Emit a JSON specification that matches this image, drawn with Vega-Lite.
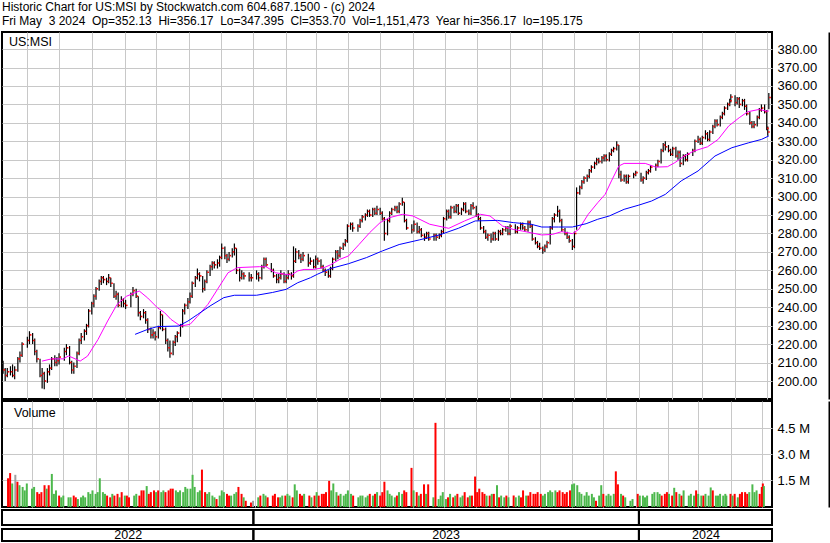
{
"$schema": "https://vega.github.io/schema/vega-lite/v6.json",
"background": "white",
"padding": {"left": 0, "right": 0, "top": 1, "bottom": 0},
"config": {"view": {"stroke": "black", "strokeWidth": 2}, "font": "Liberation Sans", "axis": {"labelFont": "Liberation Sans", "labelColor": "black"}},
"title": {"text": "Historic Chart for US:MSI by Stockwatch.com 604.687.1500 - (c) 2024", "subtitle": "Fri May\u00a0 3 2024\u00a0 Op=352.13\u00a0 Hi=356.17\u00a0 Lo=347.395\u00a0 Cl=353.70\u00a0 Vol=1,151,473\u00a0 Year hi=356.17\u00a0 lo=195.175", "anchor": "start", "fontSize": 12, "fontWeight": "normal", "font": "Liberation Sans", "color": "black", "subtitleFontSize": 12, "subtitleFont": "Liberation Sans", "subtitleColor": "black", "subtitlePadding": 2, "offset": 3, "dx": 2},
"datasets": {
"px": [
{"d":"2022-05-09","o":209,"h":211,"l":204,"c":206,"v":1.6},
{"d":"2022-05-11","o":206,"h":207,"l":200,"c":203,"v":1.9},
{"d":"2022-05-13","o":203,"h":207,"l":202,"c":205,"v":1.3},
{"d":"2022-05-16","o":205,"h":208,"l":203,"c":205,"v":1.8},
{"d":"2022-05-18","o":207,"h":209,"l":202,"c":203,"v":1.4},
{"d":"2022-05-20","o":203,"h":208,"l":201,"c":206,"v":1.2},
{"d":"2022-05-23","o":206,"h":213,"l":205,"c":212,"v":1.1},
{"d":"2022-05-25","o":212,"h":216,"l":210,"c":214,"v":0.9},
{"d":"2022-05-27","o":214,"h":221,"l":213,"c":220,"v":1.3},
{"d":"2022-06-01","o":220,"h":224,"l":218,"c":222,"v":1.0},
{"d":"2022-06-03","o":222,"h":227,"l":220,"c":225,"v":1.1},
{"d":"2022-06-06","o":225,"h":226,"l":220,"c":222,"v":0.8},
{"d":"2022-06-08","o":222,"h":223,"l":214,"c":216,"v":0.7},
{"d":"2022-06-10","o":216,"h":217,"l":210,"c":212,"v":0.8},
{"d":"2022-06-13","o":212,"h":212,"l":202,"c":203,"v":1.2},
{"d":"2022-06-15","o":203,"h":207,"l":196,"c":204,"v":1.0},
{"d":"2022-06-17","o":204,"h":205,"l":195.5,"c":200,"v":1.2},
{"d":"2022-06-20","o":200,"h":207,"l":199,"c":205,"v":1.85},
{"d":"2022-06-22","o":205,"h":209,"l":203,"c":207,"v":0.7},
{"d":"2022-06-24","o":207,"h":213,"l":206,"c":212,"v":0.9},
{"d":"2022-06-27","o":212,"h":214,"l":208,"c":210,"v":0.6},
{"d":"2022-06-29","o":210,"h":213,"l":208,"c":211,"v":0.5},
{"d":"2022-07-01","o":211,"h":215,"l":209,"c":213,"v":0.6},
{"d":"2022-07-06","o":213,"h":218,"l":211,"c":216,"v":0.5},
{"d":"2022-07-08","o":216,"h":220,"l":214,"c":218,"v":0.5},
{"d":"2022-07-11","o":218,"h":219,"l":209,"c":210,"v":0.6},
{"d":"2022-07-13","o":210,"h":211,"l":204,"c":206,"v":0.5},
{"d":"2022-07-15","o":206,"h":210,"l":204,"c":208,"v":0.4},
{"d":"2022-07-18","o":208,"h":216,"l":207,"c":215,"v":0.5},
{"d":"2022-07-20","o":215,"h":223,"l":214,"c":222,"v":0.6},
{"d":"2022-07-22","o":222,"h":226,"l":220,"c":224,"v":0.5},
{"d":"2022-07-25","o":224,"h":228,"l":222,"c":227,"v":0.8},
{"d":"2022-07-27","o":227,"h":231,"l":225,"c":230,"v":0.7},
{"d":"2022-07-29","o":230,"h":239,"l":229,"c":238,"v":0.9},
{"d":"2022-08-01","o":238,"h":243,"l":236,"c":242,"v":0.7},
{"d":"2022-08-03","o":242,"h":247,"l":240,"c":246,"v":0.8},
{"d":"2022-08-05","o":246,"h":251,"l":244,"c":250,"v":1.6},
{"d":"2022-08-08","o":250,"h":255,"l":249,"c":254,"v":0.8},
{"d":"2022-08-10","o":254,"h":257,"l":252,"c":256,"v":0.7},
{"d":"2022-08-12","o":256,"h":257,"l":253,"c":255,"v":0.6},
{"d":"2022-08-15","o":255,"h":256,"l":252,"c":254,"v":0.5},
{"d":"2022-08-17","o":254,"h":258,"l":253,"c":256,"v":0.7},
{"d":"2022-08-19","o":256,"h":256,"l":251,"c":253,"v":0.6},
{"d":"2022-08-22","o":253,"h":253,"l":245,"c":246,"v":0.7},
{"d":"2022-08-24","o":246,"h":249,"l":244,"c":247,"v":0.5},
{"d":"2022-08-26","o":247,"h":248,"l":240,"c":241,"v":0.8},
{"d":"2022-08-29","o":241,"h":246,"l":240,"c":244,"v":0.6},
{"d":"2022-08-31","o":244,"h":245,"l":240,"c":242,"v":0.6},
{"d":"2022-09-02","o":242,"h":244,"l":239,"c":241,"v":0.5},
{"d":"2022-09-07","o":241,"h":248,"l":240,"c":247,"v":0.6},
{"d":"2022-09-09","o":247,"h":251,"l":246,"c":249,"v":0.7},
{"d":"2022-09-12","o":249,"h":250,"l":245,"c":246,"v":0.6},
{"d":"2022-09-14","o":246,"h":246,"l":235,"c":237,"v":0.9},
{"d":"2022-09-16","o":237,"h":238,"l":233,"c":235,"v":0.9},
{"d":"2022-09-19","o":235,"h":239,"l":234,"c":237,"v":1.15},
{"d":"2022-09-21","o":237,"h":238,"l":231,"c":233,"v":0.7},
{"d":"2022-09-23","o":233,"h":234,"l":226,"c":228,"v":0.8},
{"d":"2022-09-26","o":228,"h":229,"l":223,"c":225,"v":0.9},
{"d":"2022-09-28","o":225,"h":228,"l":223,"c":226,"v":0.8},
{"d":"2022-09-30","o":226,"h":227,"l":222,"c":224,"v":0.9},
{"d":"2022-10-03","o":224,"h":230,"l":223,"c":229,"v":0.8},
{"d":"2022-10-05","o":229,"h":238,"l":228,"c":236,"v":0.9},
{"d":"2022-10-07","o":236,"h":236,"l":227,"c":228,"v":0.8},
{"d":"2022-10-10","o":228,"h":229,"l":220,"c":222,"v":0.9},
{"d":"2022-10-12","o":222,"h":223,"l":216,"c":218,"v":1.0},
{"d":"2022-10-14","o":218,"h":222,"l":212.6,"c":215,"v":1.0},
{"d":"2022-10-17","o":215,"h":222,"l":214,"c":221,"v":0.9},
{"d":"2022-10-19","o":221,"h":225,"l":219,"c":224,"v":0.8},
{"d":"2022-10-21","o":224,"h":227,"l":221,"c":226,"v":0.9},
{"d":"2022-10-24","o":226,"h":231,"l":224,"c":230,"v":0.8},
{"d":"2022-10-26","o":230,"h":239,"l":229,"c":238,"v":1.1},
{"d":"2022-10-28","o":238,"h":242,"l":236,"c":241,"v":1.0},
{"d":"2022-10-31","o":241,"h":245,"l":239,"c":243,"v":1.0},
{"d":"2022-11-02","o":243,"h":248,"l":242,"c":246,"v":1.8},
{"d":"2022-11-04","o":246,"h":254,"l":245,"c":253,"v":1.1},
{"d":"2022-11-07","o":253,"h":257,"l":251,"c":256,"v":0.8},
{"d":"2022-11-09","o":256,"h":261,"l":255,"c":258,"v":0.9},
{"d":"2022-11-11","o":258,"h":259,"l":254,"c":257,"v":2.1},
{"d":"2022-11-14","o":257,"h":257,"l":248,"c":250,"v":0.8},
{"d":"2022-11-16","o":250,"h":255,"l":249,"c":254,"v":0.7},
{"d":"2022-11-18","o":254,"h":260,"l":253,"c":259,"v":0.8},
{"d":"2022-11-21","o":259,"h":263,"l":257,"c":262,"v":0.6},
{"d":"2022-11-23","o":262,"h":265,"l":260,"c":264,"v":0.5},
{"d":"2022-11-25","o":264,"h":265,"l":261,"c":263,"v":0.4},
{"d":"2022-11-28","o":263,"h":266,"l":261,"c":264,"v":0.6},
{"d":"2022-11-30","o":264,"h":268,"l":262,"c":267,"v":0.9},
{"d":"2022-12-02","o":267,"h":274.5,"l":266,"c":272,"v":0.8},
{"d":"2022-12-05","o":272,"h":273,"l":266,"c":268,"v":0.7},
{"d":"2022-12-07","o":268,"h":269,"l":264,"c":266,"v":0.6},
{"d":"2022-12-09","o":266,"h":270,"l":265,"c":268,"v":0.6},
{"d":"2022-12-12","o":268,"h":272,"l":267,"c":270,"v":0.7},
{"d":"2022-12-14","o":270,"h":274.5,"l":268,"c":272,"v":0.8},
{"d":"2022-12-16","o":272,"h":272,"l":258,"c":260,"v":1.1},
{"d":"2022-12-19","o":260,"h":261,"l":254,"c":256,"v":0.7},
{"d":"2022-12-21","o":256,"h":260,"l":255,"c":258,"v":0.5},
{"d":"2022-12-23","o":258,"h":259,"l":255,"c":257,"v":0.3},
{"d":"2022-12-28","o":257,"h":259,"l":254,"c":256,"v":0.2},
{"d":"2022-12-30","o":256,"h":258,"l":254,"c":256,"v":0.3},
{"d":"2023-01-04","o":256,"h":260,"l":255,"c":258,"v":0.5},
{"d":"2023-01-06","o":258,"h":259,"l":254,"c":256,"v":0.6},
{"d":"2023-01-09","o":256,"h":263,"l":255,"c":262,"v":0.7},
{"d":"2023-01-11","o":262,"h":267,"l":261,"c":266,"v":0.6},
{"d":"2023-01-13","o":266,"h":267,"l":262,"c":263,"v":0.5},
{"d":"2023-01-18","o":263,"h":264,"l":259,"c":260,"v":0.6},
{"d":"2023-01-20","o":260,"h":261,"l":256,"c":257,"v":0.7},
{"d":"2023-01-23","o":257,"h":258,"l":253,"c":255,"v":0.5},
{"d":"2023-01-25","o":255,"h":258,"l":253,"c":256,"v":0.5},
{"d":"2023-01-27","o":256,"h":260,"l":255,"c":258,"v":0.6},
{"d":"2023-01-30","o":258,"h":259,"l":253,"c":254,"v":0.6},
{"d":"2023-02-01","o":254,"h":258,"l":253,"c":256,"v":0.7},
{"d":"2023-02-03","o":256,"h":260,"l":255,"c":258,"v":0.6},
{"d":"2023-02-06","o":258,"h":259,"l":255,"c":257,"v":0.5},
{"d":"2023-02-08","o":257,"h":273,"l":256,"c":265,"v":1.25},
{"d":"2023-02-10","o":265,"h":272,"l":264,"c":270,"v":0.9},
{"d":"2023-02-13","o":270,"h":271,"l":266,"c":268,"v":0.7},
{"d":"2023-02-15","o":268,"h":269,"l":264,"c":266,"v":0.6},
{"d":"2023-02-17","o":266,"h":270,"l":265,"c":268,"v":0.7},
{"d":"2023-02-22","o":268,"h":269,"l":262,"c":264,"v":0.6},
{"d":"2023-02-24","o":264,"h":267,"l":263,"c":265,"v":0.5},
{"d":"2023-02-27","o":265,"h":266,"l":261,"c":262,"v":0.6},
{"d":"2023-03-01","o":262,"h":268,"l":261,"c":266,"v":0.8},
{"d":"2023-03-03","o":266,"h":267,"l":263,"c":265,"v":0.6},
{"d":"2023-03-06","o":265,"h":266,"l":261,"c":262,"v":0.7},
{"d":"2023-03-08","o":262,"h":263,"l":259,"c":260,"v":0.7},
{"d":"2023-03-10","o":260,"h":261,"l":257,"c":259,"v":0.8},
{"d":"2023-03-13","o":259,"h":260,"l":256,"c":257,"v":1.45},
{"d":"2023-03-15","o":257,"h":262,"l":256,"c":261,"v":0.9},
{"d":"2023-03-17","o":261,"h":267,"l":260,"c":266,"v":1.3},
{"d":"2023-03-20","o":266,"h":271,"l":265,"c":270,"v":0.8},
{"d":"2023-03-22","o":270,"h":271,"l":266,"c":268,"v":0.6},
{"d":"2023-03-24","o":268,"h":273,"l":267,"c":272,"v":0.7},
{"d":"2023-03-27","o":272,"h":275,"l":271,"c":274,"v":0.6},
{"d":"2023-03-29","o":274,"h":277,"l":273,"c":276,"v":0.7},
{"d":"2023-03-31","o":276,"h":285,"l":275,"c":284,"v":0.9},
{"d":"2023-04-03","o":284,"h":286,"l":282,"c":285,"v":0.7},
{"d":"2023-04-05","o":285,"h":286,"l":281,"c":283,"v":0.6},
{"d":"2023-04-10","o":283,"h":285,"l":281,"c":284,"v":0.5},
{"d":"2023-04-12","o":284,"h":288,"l":283,"c":287,"v":0.6},
{"d":"2023-04-14","o":287,"h":290,"l":286,"c":289,"v":0.6},
{"d":"2023-04-17","o":289,"h":291,"l":287,"c":290,"v":0.5},
{"d":"2023-04-19","o":290,"h":293,"l":289,"c":292,"v":0.6},
{"d":"2023-04-21","o":292,"h":293,"l":289,"c":290,"v":0.7},
{"d":"2023-04-24","o":290,"h":294,"l":289,"c":293,"v":0.6},
{"d":"2023-04-26","o":293,"h":294,"l":290,"c":291,"v":0.7},
{"d":"2023-04-28","o":291,"h":295,"l":290,"c":293,"v":0.8},
{"d":"2023-05-01","o":293,"h":294,"l":290,"c":291,"v":0.6},
{"d":"2023-05-03","o":291,"h":292,"l":287,"c":288,"v":0.8},
{"d":"2023-05-05","o":288,"h":289,"l":276,"c":280,"v":1.4},
{"d":"2023-05-08","o":280,"h":288,"l":279,"c":287,"v":0.9},
{"d":"2023-05-10","o":287,"h":292,"l":286,"c":291,"v":0.7},
{"d":"2023-05-12","o":291,"h":294,"l":290,"c":293,"v":0.6},
{"d":"2023-05-15","o":293,"h":295,"l":292,"c":294,"v":0.5},
{"d":"2023-05-17","o":294,"h":295,"l":291,"c":292,"v":0.6},
{"d":"2023-05-19","o":292,"h":297,"l":291,"c":296,"v":0.8},
{"d":"2023-05-22","o":296,"h":299.4,"l":295,"c":297,"v":0.7},
{"d":"2023-05-24","o":297,"h":297,"l":286,"c":287,"v":0.9},
{"d":"2023-05-26","o":287,"h":288,"l":282,"c":283,"v":0.8},
{"d":"2023-05-31","o":283,"h":285,"l":280,"c":282,"v":2.2},
{"d":"2023-06-02","o":282,"h":287,"l":281,"c":285,"v":0.9},
{"d":"2023-06-05","o":285,"h":286,"l":280,"c":281,"v":0.8},
{"d":"2023-06-07","o":281,"h":284,"l":280,"c":282,"v":0.6},
{"d":"2023-06-09","o":282,"h":283,"l":278,"c":279,"v":0.7},
{"d":"2023-06-12","o":279,"h":280,"l":276,"c":278,"v":1.25},
{"d":"2023-06-14","o":278,"h":281,"l":277,"c":280,"v":0.7},
{"d":"2023-06-16","o":280,"h":281,"l":276,"c":277,"v":1.25},
{"d":"2023-06-21","o":277,"h":280,"l":276,"c":279,"v":0.5},
{"d":"2023-06-23","o":279,"h":280,"l":276,"c":278,"v":4.8},
{"d":"2023-06-26","o":278,"h":280,"l":277,"c":279,"v":0.4},
{"d":"2023-06-28","o":279,"h":282,"l":278,"c":281,"v":0.6},
{"d":"2023-06-30","o":281,"h":289,"l":280,"c":288,"v":0.8},
{"d":"2023-07-03","o":288,"h":293,"l":287,"c":292,"v":0.4},
{"d":"2023-07-05","o":292,"h":293,"l":288,"c":289,"v":0.5},
{"d":"2023-07-07","o":289,"h":295,"l":288,"c":294,"v":0.7},
{"d":"2023-07-10","o":294,"h":295,"l":291,"c":292,"v":0.5},
{"d":"2023-07-12","o":292,"h":296,"l":291,"c":295,"v":0.6},
{"d":"2023-07-14","o":295,"h":296,"l":290,"c":291,"v":0.7},
{"d":"2023-07-17","o":291,"h":294,"l":290,"c":293,"v":0.5},
{"d":"2023-07-19","o":293,"h":297,"l":292,"c":296,"v":0.6},
{"d":"2023-07-21","o":296,"h":297,"l":291,"c":292,"v":0.8},
{"d":"2023-07-24","o":292,"h":293,"l":290,"c":291,"v":0.5},
{"d":"2023-07-26","o":291,"h":296,"l":290,"c":295,"v":0.6},
{"d":"2023-07-28","o":295,"h":297,"l":293,"c":294,"v":0.6},
{"d":"2023-07-31","o":294,"h":295,"l":289,"c":290,"v":1.7},
{"d":"2023-08-02","o":290,"h":291,"l":287,"c":288,"v":0.8},
{"d":"2023-08-04","o":288,"h":289,"l":282,"c":283,"v":1.0},
{"d":"2023-08-07","o":283,"h":284,"l":280,"c":281,"v":0.8},
{"d":"2023-08-09","o":281,"h":282,"l":277,"c":278,"v":0.7},
{"d":"2023-08-11","o":278,"h":280,"l":276,"c":279,"v":0.6},
{"d":"2023-08-14","o":279,"h":280,"l":275,"c":277,"v":0.6},
{"d":"2023-08-16","o":277,"h":281,"l":276,"c":280,"v":0.7},
{"d":"2023-08-18","o":280,"h":281,"l":276,"c":277,"v":0.7},
{"d":"2023-08-21","o":277,"h":282,"l":276,"c":281,"v":1.2},
{"d":"2023-08-23","o":281,"h":282,"l":279,"c":280,"v":0.5},
{"d":"2023-08-25","o":280,"h":283,"l":279,"c":282,"v":0.6},
{"d":"2023-08-28","o":282,"h":284,"l":281,"c":283,"v":0.5},
{"d":"2023-08-30","o":283,"h":284,"l":279,"c":280,"v":0.6},
{"d":"2023-09-01","o":280,"h":285,"l":279,"c":284,"v":0.5},
{"d":"2023-09-06","o":284,"h":285,"l":280,"c":281,"v":0.6},
{"d":"2023-09-08","o":281,"h":284,"l":280,"c":283,"v":0.5},
{"d":"2023-09-11","o":283,"h":286,"l":282,"c":285,"v":0.6},
{"d":"2023-09-13","o":285,"h":286,"l":282,"c":283,"v":0.5},
{"d":"2023-09-15","o":283,"h":284,"l":281,"c":282,"v":0.9},
{"d":"2023-09-18","o":282,"h":287,"l":281,"c":286,"v":0.6},
{"d":"2023-09-20","o":286,"h":287,"l":283,"c":284,"v":0.6},
{"d":"2023-09-22","o":284,"h":285,"l":276,"c":277,"v":0.8},
{"d":"2023-09-25","o":277,"h":278,"l":274,"c":275,"v":0.7},
{"d":"2023-09-27","o":275,"h":276,"l":272,"c":273,"v":0.7},
{"d":"2023-09-29","o":273,"h":275,"l":271,"c":272,"v":0.8},
{"d":"2023-10-02","o":272,"h":273,"l":269,"c":271,"v":0.7},
{"d":"2023-10-04","o":271,"h":274,"l":270,"c":273,"v":0.6},
{"d":"2023-10-06","o":273,"h":276,"l":272,"c":275,"v":0.7},
{"d":"2023-10-09","o":275,"h":284,"l":274,"c":283,"v":0.8},
{"d":"2023-10-11","o":283,"h":289,"l":282,"c":288,"v":0.9},
{"d":"2023-10-13","o":288,"h":291,"l":286,"c":290,"v":0.8},
{"d":"2023-10-16","o":290,"h":295,"l":289,"c":292,"v":0.9},
{"d":"2023-10-18","o":292,"h":293,"l":286,"c":287,"v":0.8},
{"d":"2023-10-20","o":287,"h":288,"l":281,"c":282,"v":0.9},
{"d":"2023-10-23","o":282,"h":283,"l":279,"c":280,"v":0.8},
{"d":"2023-10-25","o":280,"h":281,"l":277,"c":278,"v":0.7},
{"d":"2023-10-27","o":278,"h":279,"l":275,"c":276,"v":0.8},
{"d":"2023-10-30","o":276,"h":277,"l":271,"c":273,"v":0.9},
{"d":"2023-11-01","o":273,"h":281,"l":272,"c":280,"v":1.25},
{"d":"2023-11-03","o":283,"h":305,"l":282,"c":302,"v":1.3},
{"d":"2023-11-06","o":302,"h":306,"l":301,"c":305,"v":1.2},
{"d":"2023-11-08","o":305,"h":309,"l":304,"c":308,"v":0.8},
{"d":"2023-11-10","o":308,"h":311,"l":307,"c":310,"v":0.7},
{"d":"2023-11-13","o":310,"h":312,"l":308,"c":311,"v":0.6},
{"d":"2023-11-15","o":311,"h":315,"l":310,"c":314,"v":0.8},
{"d":"2023-11-17","o":314,"h":317,"l":313,"c":316,"v":0.6},
{"d":"2023-11-20","o":316,"h":319,"l":315,"c":318,"v":0.7},
{"d":"2023-11-22","o":318,"h":321,"l":317,"c":320,"v":0.5},
{"d":"2023-11-24","o":320,"h":321,"l":318,"c":319,"v":0.3},
{"d":"2023-11-27","o":319,"h":322,"l":318,"c":321,"v":0.6},
{"d":"2023-11-29","o":321,"h":323,"l":319,"c":322,"v":1.2},
{"d":"2023-12-01","o":322,"h":323,"l":319,"c":320,"v":0.7},
{"d":"2023-12-04","o":320,"h":324,"l":319,"c":323,"v":0.6},
{"d":"2023-12-06","o":323,"h":326,"l":322,"c":325,"v":0.7},
{"d":"2023-12-08","o":325,"h":327,"l":324,"c":326,"v":0.6},
{"d":"2023-12-11","o":326,"h":330,"l":325,"c":328,"v":0.7},
{"d":"2023-12-13","o":328,"h":328,"l":310,"c":312,"v":2.0},
{"d":"2023-12-15","o":312,"h":314,"l":308,"c":309,"v":1.25},
{"d":"2023-12-18","o":309,"h":312,"l":308,"c":311,"v":0.7},
{"d":"2023-12-20","o":311,"h":312,"l":307,"c":308,"v":0.6},
{"d":"2023-12-22","o":308,"h":312,"l":307,"c":311,"v":0.5},
{"d":"2023-12-27","o":311,"h":313,"l":310,"c":312,"v":0.3},
{"d":"2023-12-29","o":312,"h":314,"l":311,"c":313,"v":0.4},
{"d":"2024-01-03","o":313,"h":313,"l":308,"c":309,"v":0.7},
{"d":"2024-01-05","o":309,"h":311,"l":307,"c":310,"v":0.6},
{"d":"2024-01-08","o":310,"h":314,"l":309,"c":313,"v":0.6},
{"d":"2024-01-10","o":313,"h":315,"l":312,"c":314,"v":0.5},
{"d":"2024-01-12","o":314,"h":317,"l":313,"c":316,"v":0.6},
{"d":"2024-01-17","o":316,"h":318,"l":314,"c":317,"v":0.7},
{"d":"2024-01-19","o":317,"h":320,"l":316,"c":319,"v":0.8},
{"d":"2024-01-22","o":319,"h":326,"l":318,"c":325,"v":0.8},
{"d":"2024-01-24","o":325,"h":329,"l":324,"c":328,"v":0.7},
{"d":"2024-01-26","o":328,"h":330,"l":325,"c":327,"v":0.6},
{"d":"2024-01-29","o":327,"h":328,"l":324,"c":325,"v":0.7},
{"d":"2024-01-31","o":325,"h":326,"l":322,"c":323,"v":0.8},
{"d":"2024-02-02","o":323,"h":327,"l":322,"c":326,"v":0.7},
{"d":"2024-02-05","o":326,"h":327,"l":321,"c":322,"v":0.6},
{"d":"2024-02-07","o":322,"h":325,"l":320,"c":324,"v":1.05},
{"d":"2024-02-09","o":324,"h":325,"l":316,"c":318,"v":0.8},
{"d":"2024-02-12","o":318,"h":323,"l":317,"c":322,"v":0.7},
{"d":"2024-02-14","o":322,"h":323,"l":319,"c":320,"v":0.6},
{"d":"2024-02-16","o":320,"h":324,"l":319,"c":323,"v":0.9},
{"d":"2024-02-21","o":323,"h":326,"l":322,"c":325,"v":0.6},
{"d":"2024-02-23","o":325,"h":331,"l":324,"c":330,"v":0.7},
{"d":"2024-02-26","o":330,"h":333,"l":329,"c":331,"v":0.6},
{"d":"2024-02-28","o":331,"h":332,"l":328,"c":329,"v":0.9},
{"d":"2024-03-01","o":329,"h":333,"l":328,"c":332,"v":0.7},
{"d":"2024-03-04","o":332,"h":336,"l":331,"c":334,"v":0.6},
{"d":"2024-03-06","o":334,"h":335,"l":330,"c":331,"v":0.6},
{"d":"2024-03-08","o":331,"h":336,"l":330,"c":335,"v":0.7},
{"d":"2024-03-11","o":335,"h":339,"l":334,"c":338,"v":0.6},
{"d":"2024-03-13","o":338,"h":342,"l":337,"c":341,"v":1.07},
{"d":"2024-03-15","o":341,"h":342,"l":338,"c":339,"v":0.9},
{"d":"2024-03-18","o":339,"h":344,"l":338,"c":343,"v":0.6},
{"d":"2024-03-20","o":343,"h":346,"l":342,"c":345,"v":0.6},
{"d":"2024-03-22","o":345,"h":349,"l":344,"c":348,"v":0.7},
{"d":"2024-03-25","o":348,"h":351,"l":347,"c":350,"v":0.6},
{"d":"2024-03-27","o":350,"h":353,"l":349,"c":352,"v":0.7},
{"d":"2024-03-28","o":352,"h":355.5,"l":351,"c":354,"v":0.6},
{"d":"2024-04-01","o":354,"h":355,"l":349,"c":351,"v":0.7},
{"d":"2024-04-03","o":351,"h":354,"l":350,"c":353,"v":0.6},
{"d":"2024-04-05","o":353,"h":354,"l":348,"c":350,"v":0.7},
{"d":"2024-04-08","o":350,"h":353,"l":349,"c":352,"v":0.5},
{"d":"2024-04-10","o":352,"h":353,"l":347,"c":349,"v":0.7},
{"d":"2024-04-12","o":349,"h":350,"l":344,"c":345,"v":0.8},
{"d":"2024-04-15","o":345,"h":346,"l":339,"c":340,"v":0.8},
{"d":"2024-04-17","o":340,"h":341,"l":337,"c":338,"v":0.7},
{"d":"2024-04-19","o":338,"h":341,"l":337,"c":339,"v":0.8},
{"d":"2024-04-22","o":339,"h":344,"l":338,"c":343,"v":1.25},
{"d":"2024-04-24","o":343,"h":348,"l":342,"c":347,"v":0.8},
{"d":"2024-04-26","o":347,"h":350,"l":346,"c":348,"v":0.9},
{"d":"2024-04-29","o":348,"h":350,"l":345,"c":346,"v":0.7},
{"d":"2024-05-01","o":346,"h":347,"l":336,"c":337,"v":1.1},
{"d":"2024-05-02","o":337,"h":338,"l":333,"c":335,"v":1.3},
{"d":"2024-05-03","o":352.13,"h":356.17,"l":347.395,"c":353.70,"v":1.15}
],
"pink": [
{"d":"2022-06-15","m":210.8},{"d":"2022-06-24","m":212},{"d":"2022-07-05","m":212},{"d":"2022-07-10","m":213.6},{"d":"2022-07-21","m":210.8},{"d":"2022-07-28","m":213.5},{"d":"2022-08-07","m":222.6},{"d":"2022-08-16","m":232.5},{"d":"2022-08-25","m":241.6},{"d":"2022-09-03","m":246},{"d":"2022-09-15","m":248.8},{"d":"2022-09-23","m":245},{"d":"2022-10-02","m":239.8},{"d":"2022-10-09","m":237},{"d":"2022-10-15","m":233.4},{"d":"2022-10-24","m":229.8},{"d":"2022-11-02","m":230.7},{"d":"2022-11-09","m":235},{"d":"2022-11-19","m":241.6},{"d":"2022-11-28","m":249.7},{"d":"2022-12-08","m":258.7},{"d":"2022-12-17","m":261.5},{"d":"2023-01-07","m":262},{"d":"2023-01-13","m":262},{"d":"2023-01-22","m":258.7},{"d":"2023-02-01","m":257.8},{"d":"2023-02-06","m":257.5},{"d":"2023-02-12","m":259.7},{"d":"2023-02-18","m":260.5},{"d":"2023-02-27","m":260.5},{"d":"2023-03-09","m":261.5},{"d":"2023-03-15","m":263},{"d":"2023-03-24","m":266},{"d":"2023-04-01","m":267.8},{"d":"2023-04-11","m":274},{"d":"2023-04-21","m":280.4},{"d":"2023-05-01","m":285.9},{"d":"2023-05-10","m":288.6},{"d":"2023-05-22","m":290.4},{"d":"2023-06-01","m":289.5},{"d":"2023-06-17","m":285},{"d":"2023-07-05","m":282.8},{"d":"2023-07-20","m":286.8},{"d":"2023-08-04","m":290.4},{"d":"2023-08-13","m":289.5},{"d":"2023-08-25","m":284},{"d":"2023-09-04","m":282.2},{"d":"2023-09-13","m":281.3},{"d":"2023-10-01","m":279.2},{"d":"2023-10-11","m":279.5},{"d":"2023-10-20","m":281},{"d":"2023-10-30","m":279.9},{"d":"2023-11-05","m":282.2},{"d":"2023-11-14","m":290.4},{"d":"2023-11-23","m":296.7},{"d":"2023-11-30","m":301.2},{"d":"2023-12-06","m":308.5},{"d":"2023-12-13","m":316.6},{"d":"2023-12-18","m":318},{"d":"2024-01-07","m":318},{"d":"2024-01-17","m":316},{"d":"2024-01-28","m":316.2},{"d":"2024-02-04","m":318.4},{"d":"2024-02-13","m":322},{"d":"2024-02-22","m":324.7},{"d":"2024-03-06","m":327},{"d":"2024-03-16","m":331},{"d":"2024-03-26","m":338.3},{"d":"2024-04-05","m":342.8},{"d":"2024-04-13","m":346},{"d":"2024-04-24","m":347.3},{"d":"2024-04-30","m":346.4},{"d":"2024-05-03","m":346.4}
],
"blue": [
{"d":"2022-09-11","m":225.3},{"d":"2022-09-23","m":228},{"d":"2022-10-02","m":229.5},{"d":"2022-10-22","m":229.8},{"d":"2022-10-31","m":232.5},{"d":"2022-11-09","m":236},{"d":"2022-11-21","m":240.7},{"d":"2022-12-04","m":245.2},{"d":"2022-12-14","m":246.5},{"d":"2023-01-04","m":246.5},{"d":"2023-01-19","m":248},{"d":"2023-02-01","m":249.7},{"d":"2023-02-12","m":253.3},{"d":"2023-02-24","m":256},{"d":"2023-03-03","m":258},{"d":"2023-03-15","m":261},{"d":"2023-04-01","m":263.6},{"d":"2023-04-18","m":266.9},{"d":"2023-05-03","m":270.5},{"d":"2023-05-19","m":274},{"d":"2023-06-07","m":276.5},{"d":"2023-06-26","m":279.2},{"d":"2023-07-14","m":282.8},{"d":"2023-07-30","m":286.8},{"d":"2023-08-20","m":287.1},{"d":"2023-09-04","m":285.9},{"d":"2023-09-21","m":285},{"d":"2023-10-01","m":283.5},{"d":"2023-10-17","m":283.5},{"d":"2023-10-30","m":283.5},{"d":"2023-11-12","m":285.3},{"d":"2023-11-23","m":287.7},{"d":"2023-12-04","m":289.5},{"d":"2023-12-18","m":293.1},{"d":"2024-01-01","m":295.4},{"d":"2024-01-13","m":297.6},{"d":"2024-01-26","m":301.2},{"d":"2024-02-10","m":308.5},{"d":"2024-02-26","m":313.9},{"d":"2024-03-13","m":322},{"d":"2024-03-29","m":326.5},{"d":"2024-04-14","m":329.2},{"d":"2024-04-26","m":331},{"d":"2024-05-03","m":332.9}
],
"yrs": [
{"yr":"2022","s":"2022-05-08","e":"2023-01-01"},
{"yr":"2023","s":"2023-01-01","e":"2024-01-01"},
{"yr":"2024","s":"2024-01-01","e":"2024-05-06"}
]
},
"spacing": 0,
"vconcat": [
{
"width": 770, "height": 367,
"layer": [
{"data": {"name": "px"}, "mark": {"type": "rule", "color": "black", "strokeWidth": 1.2},
"encoding": {
"x": {"field": "d", "type": "temporal", "scale": {"type": "utc", "domain": [{"year": 2022, "month": 5, "date": 8, "utc": true}, {"year": 2024, "month": 5, "date": 6, "utc": true}]}, "axis": {"title": null, "labels": false, "ticks": false, "domain": false, "grid": true, "gridColor": "#c8c8c8", "tickCount": {"interval": "month", "step": 1}}},
"y": {"field": "l", "type": "quantitative", "scale": {"domain": [190.24, 389.26], "nice": false, "zero": false}, "axis": {"orient": "right", "title": null, "values": [200,210,220,230,240,250,260,270,280,290,300,310,320,330,340,350,360,370,380], "tickCount": 40, "format": ".2f", "labelOverlap": false, "labelFontSize": 13, "offset": 57, "labelPadding": -52, "domain": true, "domainColor": "black", "domainWidth": 2, "ticks": false, "grid": true, "gridColor": "#c8c8c8"}},
"y2": {"field": "h"}
}},
{"data": {"name": "px"}, "mark": {"type": "square", "size": 2.5, "color": "#ff0000", "opacity": 1, "filled": true, "xOffset": 1.2},
"encoding": {"x": {"field": "d", "type": "temporal"}, "y": {"field": "c", "type": "quantitative"}}},
{"data": {"name": "pink"}, "mark": {"type": "line", "color": "#ff00ff", "strokeWidth": 1},
"encoding": {"x": {"field": "d", "type": "temporal"}, "y": {"field": "m", "type": "quantitative"}}},
{"data": {"name": "blue"}, "mark": {"type": "line", "color": "#0000ff", "strokeWidth": 1},
"encoding": {"x": {"field": "d", "type": "temporal"}, "y": {"field": "m", "type": "quantitative"}}},
{"data": {"values": [{"t": "US:MSI"}]}, "mark": {"type": "text", "align": "left", "baseline": "top", "dx": 7, "dy": 4, "fontSize": 12.5, "color": "black", "font": "Liberation Sans"},
"encoding": {"x": {"datum": {"year": 2022, "month": 5, "date": 8, "utc": true}, "type": "temporal"}, "y": {"datum": 389.26, "type": "quantitative"}, "text": {"field": "t"}}}
]
},
{
"width": 770, "height": 106,
"layer": [
{"data": {"name": "px"}, "mark": {"type": "bar", "width": 2},
"encoding": {
"x": {"field": "d", "type": "temporal", "scale": {"type": "utc", "domain": [{"year": 2022, "month": 5, "date": 8, "utc": true}, {"year": 2024, "month": 5, "date": 6, "utc": true}]}, "axis": {"title": null, "labels": false, "ticks": false, "domain": false, "grid": true, "gridColor": "#c8c8c8", "tickCount": {"interval": "month", "step": 1}}},
"y": {"field": "v", "type": "quantitative", "scale": {"domain": [-0.058, 6.06], "nice": false, "zero": false}, "axis": {"orient": "right", "title": null, "values": [1.5, 3, 4.5], "tickCount": 10, "labelExpr": "format(datum.value, '.1f') + ' M'", "labelFontSize": 13, "offset": 57, "labelPadding": -52, "ticks": false, "domain": true, "domainColor": "black", "domainWidth": 2, "grid": true, "gridColor": "#c8c8c8"}},
"y2": {"datum": -0.058},
"color": {"condition": [{"test": "datum.c > datum.o", "value": "#4cb84c"}, {"test": "datum.c < datum.o", "value": "#ff0000"}], "value": "#a0a0a0"}
}},
{"data": {"values": [{"t": "Volume"}]}, "mark": {"type": "text", "align": "left", "baseline": "top", "dx": 7, "dy": 6, "fontSize": 12.5, "color": "black", "font": "Liberation Sans"},
"encoding": {"x": {"datum": {"year": 2022, "month": 5, "date": 8, "utc": true}, "type": "temporal"}, "y": {"datum": 6.06, "type": "quantitative"}, "text": {"field": "t"}}}
]
},
{
"width": 770, "height": 15,
"data": {"name": "yrs"},
"mark": {"type": "rect", "fillOpacity": 0, "stroke": "black", "strokeWidth": 2},
"encoding": {
"x": {"field": "s", "type": "temporal", "scale": {"type": "utc", "domain": [{"year": 2022, "month": 5, "date": 8, "utc": true}, {"year": 2024, "month": 5, "date": 6, "utc": true}]}, "axis": null},
"x2": {"field": "e"}
}
},
{
"width": 770, "height": 12,
"data": {"name": "yrs"},
"mark": {"type": "rect", "fillOpacity": 0, "stroke": "black", "strokeWidth": 2},
"encoding": {
"x": {"field": "s", "type": "temporal", "scale": {"type": "utc", "domain": [{"year": 2022, "month": 5, "date": 8, "utc": true}, {"year": 2024, "month": 5, "date": 6, "utc": true}]}, "axis": {"orient": "bottom", "title": null, "values": [{"year": 2022, "month": 9, "date": 4, "utc": true}, {"year": 2023, "month": 7, "date": 2, "utc": true}, {"year": 2024, "month": 3, "date": 4, "utc": true}], "format": "%Y", "labelFontSize": 12.5, "labelPadding": -13, "labelBaseline": "top", "ticks": false, "tickSize": 0, "domain": false, "grid": false, "labelFlush": false, "zindex": 1}},
"x2": {"field": "e"}
}
}
]
}
